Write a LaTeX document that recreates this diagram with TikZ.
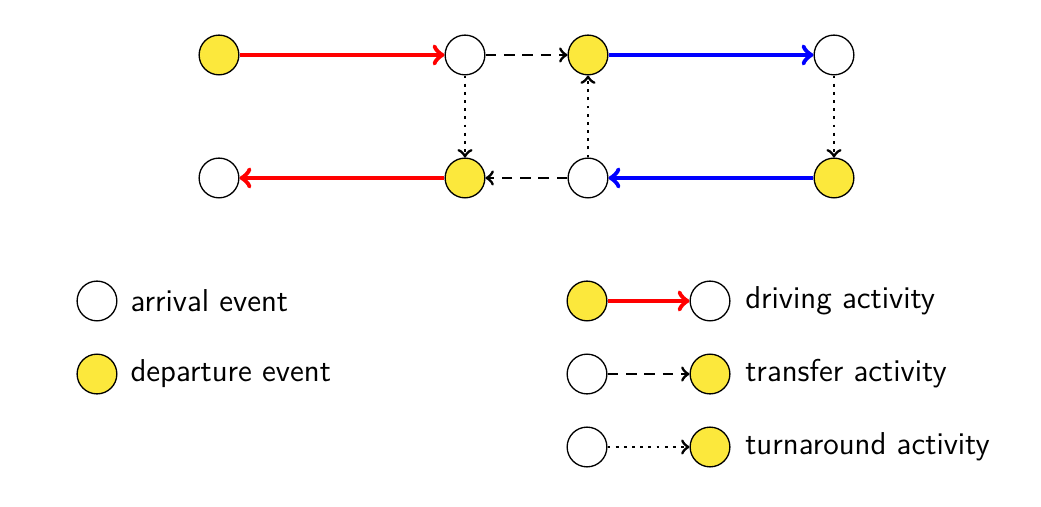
\documentclass[tikz,border=0pt]{standalone}
\usepackage{amsmath}
\usepackage{color}
\usepackage{tikz}
\usetikzlibrary{arrows}
\definecolor{evyellow}{RGB}{252,232,60}
\tikzset{
  arrev/.style={circle,draw,line width=0.5pt,fill=white,minimum size=0.53cm,inner sep=0pt},
  depev/.style={arrev,fill=evyellow},
  drive/.style={->,line width=1.8pt},
  transfer/.style={->,dash pattern=on 4pt off 3pt,line width=1.1pt},
  turn/.style={->,dotted,line width=1.1pt},
  legtext/.style={anchor=west,inner sep=0pt,font=\sffamily\large}
}
\begin{document}
\begin{tikzpicture}
 	\useasboundingbox (0,0) rectangle (13.88,-6.76);
 	%top row
 	\node[depev] (D1) at (2.92,-0.733) {};
 	\node[arrev] (A1) at (6.2,-0.733) {};
 	\node[depev] (D2) at (7.84,-0.733) {};
 	\node[arrev] (A2) at (11.12,-0.733) {};
 	%bottom row
 	\node[arrev] (A4) at (2.92,-2.373) {};
 	\node[depev] (D4) at (6.2,-2.373) {};
 	\node[arrev] (A3) at (7.84,-2.373) {};
 	\node[depev] (D3) at (11.12,-2.373) {};
 	%activities
 	\draw[drive,red] (D1) -- (A1);
 	\draw[transfer] (A1) -- (D2);
 	\draw[drive,blue] (D2) -- (A2);
 	\draw[turn] (A2) -- (D3);
 	\draw[drive,blue] (D3) -- (A3);
 	\draw[transfer] (A3) -- (D4);
 	\draw[drive,red] (D4) -- (A4);
 	\draw[turn] (A1) -- (D4);
 	\draw[turn] (A3) -- (D2);
 	%legend events
 	\node[arrev] (LA) at (1.293,-4.013) {};
 	\node[legtext] (LAt) at (1.733,-4.013) {arrival event};
 	\node[depev] (LD) at (1.293,-4.987) {};
 	\node[legtext] (LDt) at (1.733,-4.987) {departure event};
 	%legend activities
 	\node[depev] (LDr1) at (7.827,-4.013) {};
 	\node[arrev] (LDr2) at (9.467,-4.013) {};
 	\draw[drive,red] (LDr1) -- (LDr2);
 	\node[legtext] (LDrt) at (9.93,-4.013) {driving activity};
 	\node[arrev] (LTr1) at (7.827,-4.987) {};
 	\node[depev] (LTr2) at (9.467,-4.987) {};
 	\draw[transfer] (LTr1) -- (LTr2);
 	\node[legtext] (LTrt) at (9.93,-4.987) {transfer activity};
 	\node[arrev] (LTu1) at (7.827,-5.96) {};
 	\node[depev] (LTu2) at (9.467,-5.96) {};
 	\draw[turn] (LTu1) -- (LTu2);
 	\node[legtext] (LTut) at (9.93,-5.96) {turnaround activity};
\end{tikzpicture}
\end{document}
